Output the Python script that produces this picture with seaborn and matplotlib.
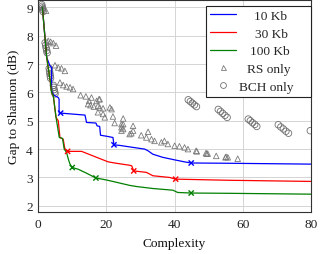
import numpy as np
import pandas as pd
import seaborn as sns
import matplotlib
matplotlib.use("Agg")
import matplotlib.pyplot as plt

# ---------------- data ----------------
blue_x = [1.2, 2.45, 3.4, 3.9, 3.9, 4.6, 5.85, 6.1, 6.1, 6.55, 13.7, 14.15, 16.9, 17.25, 18.0, 18.25, 20.2,
          21.9, 22.2, 23.9, 27.8, 31.2, 32.2, 33.6, 36.5, 40.0, 42.9, 44.85, 56.0, 80.0]
blue_y = [9.0, 7.24, 6.94, 6.88, 6.06, 5.9, 5.82, 5.76, 5.27, 5.27, 5.2, 4.94, 4.92, 4.82, 4.80, 4.49, 4.45,
          4.41, 4.15, 4.13, 4.06, 4.0, 3.94, 3.82, 3.71, 3.62, 3.55, 3.51, 3.50, 3.47]

red_x = [1.2, 2.45, 3.5, 3.9, 4.4, 4.9, 5.2, 5.85, 6.35, 7.3, 7.8, 8.6, 12.7, 17.1, 20.5, 22.9, 26.8, 27.4,
         28.0, 31.7, 33.6, 38.5, 40.3, 56.0, 80.0]
red_y = [9.0, 7.24, 6.4, 6.0, 5.88, 5.4, 5.12, 5.0, 4.41, 4.35, 4.0, 3.92, 3.92, 3.71, 3.55, 3.50, 3.43, 3.41,
         3.23, 3.18, 3.06, 3.0, 2.94, 2.90, 2.86]

green_x = [1.2, 2.45, 3.5, 3.9, 4.4, 4.9, 5.2, 6.15, 7.1, 7.6, 8.3, 8.8, 9.3, 9.95, 11.7, 14.15, 16.9, 20.0,
           22.9, 26.8, 28.8, 33.6, 39.5, 40.9, 44.85, 56.0, 80.0]
green_y = [9.0, 7.24, 6.4, 6.0, 5.88, 5.4, 5.12, 4.41, 4.38, 4.0, 3.88, 3.65, 3.47, 3.35, 3.29, 3.15, 2.98, 2.91,
           2.83, 2.72, 2.68, 2.61, 2.55, 2.47, 2.45, 2.44, 2.41]

blue_mark_x = [6.55, 22.2, 44.85]
blue_mark_y = [5.27, 4.15, 3.51]
red_mark_x = [8.6, 28.0, 40.3]
red_mark_y = [3.92, 3.23, 2.94]
green_mark_x = [9.95, 16.9, 44.85]
green_mark_y = [3.35, 2.98, 2.45]

rs_x = [1.3, 2.25, 2.9, 3.6, 4.4, 5.2, 4.9, 5.85, 6.8, 7.8, 6.35, 7.3, 8.3, 9.3, 10.2,
        12.4, 13.95, 15.6, 17.8, 14.6, 16.3, 18.0, 21.0, 14.9, 17.1, 15.3, 17.5, 17.5, 19.0,
        18.0, 19.0, 19.5, 21.5, 21.9, 22.4, 24.4, 24.4, 24.4, 26.8, 24.9, 24.9, 24.9,
        27.8, 27.8, 27.3, 30.2, 32.2, 31.7, 33.2, 34.1, 36.1, 37.0, 38.0, 40.0, 41.4, 42.9,
        43.9, 46.3, 46.5, 49.2, 49.4, 49.7, 52.2, 54.9, 55.1, 55.6, 58.5]
rs_y = [9.0, 8.88, 7.82, 7.79, 7.74, 7.65, 6.96, 6.88, 6.85, 6.76, 6.35, 6.26, 6.21, 6.18, 6.12,
        5.9, 5.86, 5.82, 5.76, 5.59, 5.5, 5.47, 5.47, 5.7, 5.7, 5.55, 5.53, 5.3, 5.24,
        5.76, 5.44, 5.12, 5.41, 5.15, 4.92, 4.88, 4.77, 4.65, 4.53, 5.08, 4.88, 4.71,
        4.82, 4.65, 4.56, 4.49, 4.61, 4.41, 4.35, 4.29, 4.24, 4.29, 4.18, 4.12, 4.10, 4.06,
        4.0, 3.94, 3.92, 3.86, 3.84, 3.84, 3.76, 3.71, 3.73, 3.71, 3.66]

bch_x = [1.0, 1.1, 1.2, 1.3, 1.4,
         2.0, 2.15, 2.3, 2.45, 2.6,
         3.2, 3.3, 3.4, 3.5, 3.6,
         4.4, 4.5, 4.65, 4.8, 4.9,
         44.0, 44.6, 45.2, 45.8, 46.4,
         52.8, 53.45, 54.1, 54.75, 55.4,
         61.6, 62.2, 62.85, 63.5, 64.1,
         70.4, 71.15, 71.9, 72.65, 73.4,
         79.8]
bch_y = [9.1, 9.04, 8.98, 8.92, 8.85,
         7.75, 7.66, 7.57, 7.48, 7.4,
         6.85, 6.76, 6.67, 6.58, 6.5,
         6.25, 6.18, 6.1, 6.02, 5.95,
         5.74, 5.68, 5.62, 5.56, 5.5,
         5.40, 5.33, 5.26, 5.19, 5.12,
         5.06, 5.0, 4.93, 4.87, 4.8,
         4.86, 4.78, 4.71, 4.63, 4.56,
         4.65]

series_names = ["10 Kb", "30 Kb", "100 Kb"]
series_colors = ["#0000ff", "#ff0000", "#008000"]

# ---------------- figure ----------------
sns.set_theme(style="whitegrid")
plt.rcParams["font.family"] = ["Liberation Serif", "DejaVu Serif"]
FS = 9.6

fig = plt.figure(figsize=(3.23, 2.55), dpi=100)
ax = fig.add_axes([0.1186, 0.1635, 0.8442, 0.8325])
ax.set_facecolor("white")

lines_df = pd.concat([
    pd.DataFrame({"x": blue_x, "y": blue_y, "s": series_names[0]}),
    pd.DataFrame({"x": red_x, "y": red_y, "s": series_names[1]}),
    pd.DataFrame({"x": green_x, "y": green_y, "s": series_names[2]}),
], ignore_index=True)
marks_df = pd.concat([
    pd.DataFrame({"x": blue_mark_x, "y": blue_mark_y, "s": series_names[0]}),
    pd.DataFrame({"x": red_mark_x, "y": red_mark_y, "s": series_names[1]}),
    pd.DataFrame({"x": green_mark_x, "y": green_mark_y, "s": series_names[2]}),
], ignore_index=True)
pal = dict(zip(series_names, series_colors))

sns.scatterplot(x=rs_x, y=rs_y, ax=ax, marker="^", s=16, facecolor="none",
                edgecolor="#7a7a7a", linewidth=0.6, legend=False, zorder=2)
sns.scatterplot(x=bch_x, y=bch_y, ax=ax, marker="o", s=22, facecolor="none",
                edgecolor="#707070", linewidth=0.6, legend=False, zorder=2)
sns.lineplot(data=lines_df, x="x", y="y", hue="s", palette=pal, sort=False,
             estimator=None, linewidth=0.9, ax=ax, legend=False, zorder=3)
sns.scatterplot(data=marks_df, x="x", y="y", hue="s", palette=pal, marker="x",
                s=14, linewidth=1.0, ax=ax, legend=False, zorder=4)

ax.set_xlim(0, 80)
ax.set_ylim(1.77, 9.26)
ax.set_xticks([0, 20, 40, 60, 80])
ax.set_yticks([2, 3, 4, 5, 6, 7, 8, 9])
ax.grid(True, color="#d4d4d4", linewidth=0.7)
ax.tick_params(length=0, labelsize=FS, colors="#222222", pad=4)
for sp in ax.spines.values():
    sp.set_color("#333333")
    sp.set_linewidth(0.8)
ax.set_xlabel("Complexity", fontsize=FS, color="#111111", labelpad=5)
ax.set_ylabel("Gap to Shannon (dB)", fontsize=FS, color="#111111", labelpad=4)

from matplotlib.lines import Line2D
handles = [Line2D([], [], color=c, lw=0.9) for c in series_colors]
handles.append(Line2D([], [], ls="none", marker="^", ms=3.6, mfc="none", mec="#7a7a7a", mew=0.6))
handles.append(Line2D([], [], ls="none", marker="o", ms=4.2, mfc="none", mec="#707070", mew=0.6))
labels = [l + "\u2002\u2002" for l in series_names + ["RS only", "BCH only"]]
leg = ax.legend(handles, labels, loc="upper right", bbox_to_anchor=(1.0, 0.973),
                borderaxespad=0, fontsize=FS, frameon=True, fancybox=False,
                framealpha=1, edgecolor="#222222", handlelength=1.9,
                handletextpad=0.25, labelspacing=0.4, borderpad=0.3, numpoints=1)
leg.get_frame().set_linewidth(0.8)
fig.canvas.draw()
r = fig.canvas.get_renderer()
widths = [t.get_window_extent(r).width for t in leg.get_texts()]
wmax = max(widths)
for t, w in zip(leg.get_texts(), widths):
    t.set_position(((wmax - w) * 72.0 / fig.dpi, 0))

fig.savefig("out.png", dpi=100)
